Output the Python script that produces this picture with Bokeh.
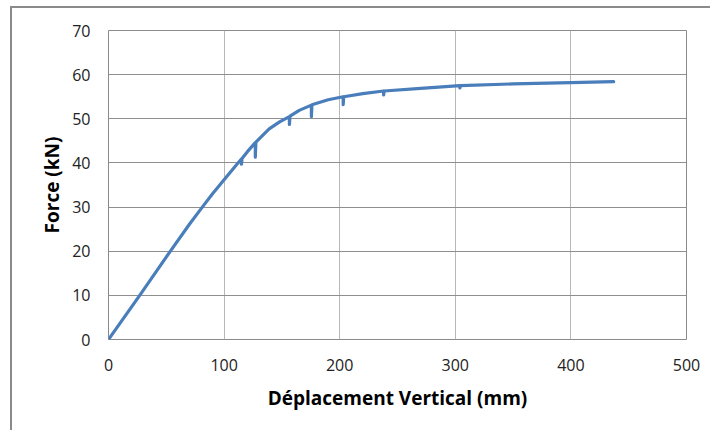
from bokeh.plotting import figure
from bokeh.models import FixedTicker
from bokeh.embed import file_html
from bokeh.resources import INLINE

# Data (displacement mm, force kN)
displacement = [0, 27, 54, 70, 80, 90, 100, 112, 115, 115, 115.5, 120, 127, 127, 127.5,
                139, 148, 156.5, 156.5, 157, 165, 175.5, 175.5, 176, 190, 203,
                203, 203.5, 220, 238, 238, 238.5, 270, 304, 304, 304.5, 350, 400, 437]
force = [0, 10, 20.2, 26.1, 29.6, 33.0, 36.2, 40.0, 40.9, 39.7, 41.0, 42.5, 44.6, 41.3, 44.7,
         47.7, 49.3, 50.5, 48.7, 50.6, 51.9, 53.1, 50.5, 53.2, 54.3, 55.0,
         53.2, 55.0, 55.7, 56.3, 55.4, 56.3, 56.9, 57.5, 57.0, 57.5, 57.9, 58.2, 58.4]
x_ticks = [0, 100, 200, 300, 400, 500]
y_ticks = [0, 10, 20, 30, 40, 50, 60, 70]
x_title = "Déplacement Vertical (mm)"
y_title = "Force (kN)"

FONT = "Open Sans"

p = figure(width=700, height=424, output_backend="svg", toolbar_location=None,
           x_range=(0, 500), y_range=(0, 70),
           min_border_left=96, min_border_right=26, min_border_top=22, min_border_bottom=93)
p.background_fill_color = "white"
p.border_fill_color = "white"
p.outline_line_color = "#8a8a8a"
p.outline_line_width = 1
p.styles = {"border-left": "2px solid #8a8a8a", "border-top": "2px solid #8a8a8a",
            "margin-left": "10px", "margin-top": "6px"}

p.line(displacement, force, line_color="#4a7ebb", line_width=3.2, line_join="round", line_cap="round")

for ax, ticks in ((p.xaxis[0], x_ticks), (p.yaxis[0], y_ticks)):
    ax.ticker = FixedTicker(ticks=ticks)
    ax.axis_line_color = None
    ax.major_tick_line_color = None
    ax.minor_tick_line_color = None
    ax.major_tick_in = 0
    ax.major_tick_out = 0
    ax.major_label_text_font = FONT
    ax.major_label_text_font_size = "16px"
    ax.major_label_text_color = "#222222"
    ax.axis_label_text_font = FONT
    ax.axis_label_text_font_style = "bold"
    ax.axis_label_text_font_size = "19px"
    ax.axis_label_text_color = "#000000"

p.xaxis[0].axis_label = x_title
p.yaxis[0].axis_label = y_title
p.xaxis[0].major_label_standoff = 19
p.yaxis[0].major_label_standoff = 18
p.xaxis[0].axis_label_standoff = 11
p.yaxis[0].axis_label_standoff = 4

p.xgrid[0].grid_line_color = "#b8b8b8"
p.ygrid[0].grid_line_color = "#8f8f8f"
p.xgrid[0].grid_line_width = 1
p.ygrid[0].grid_line_width = 1

open("out.html", "w").write(file_html(p, INLINE))
